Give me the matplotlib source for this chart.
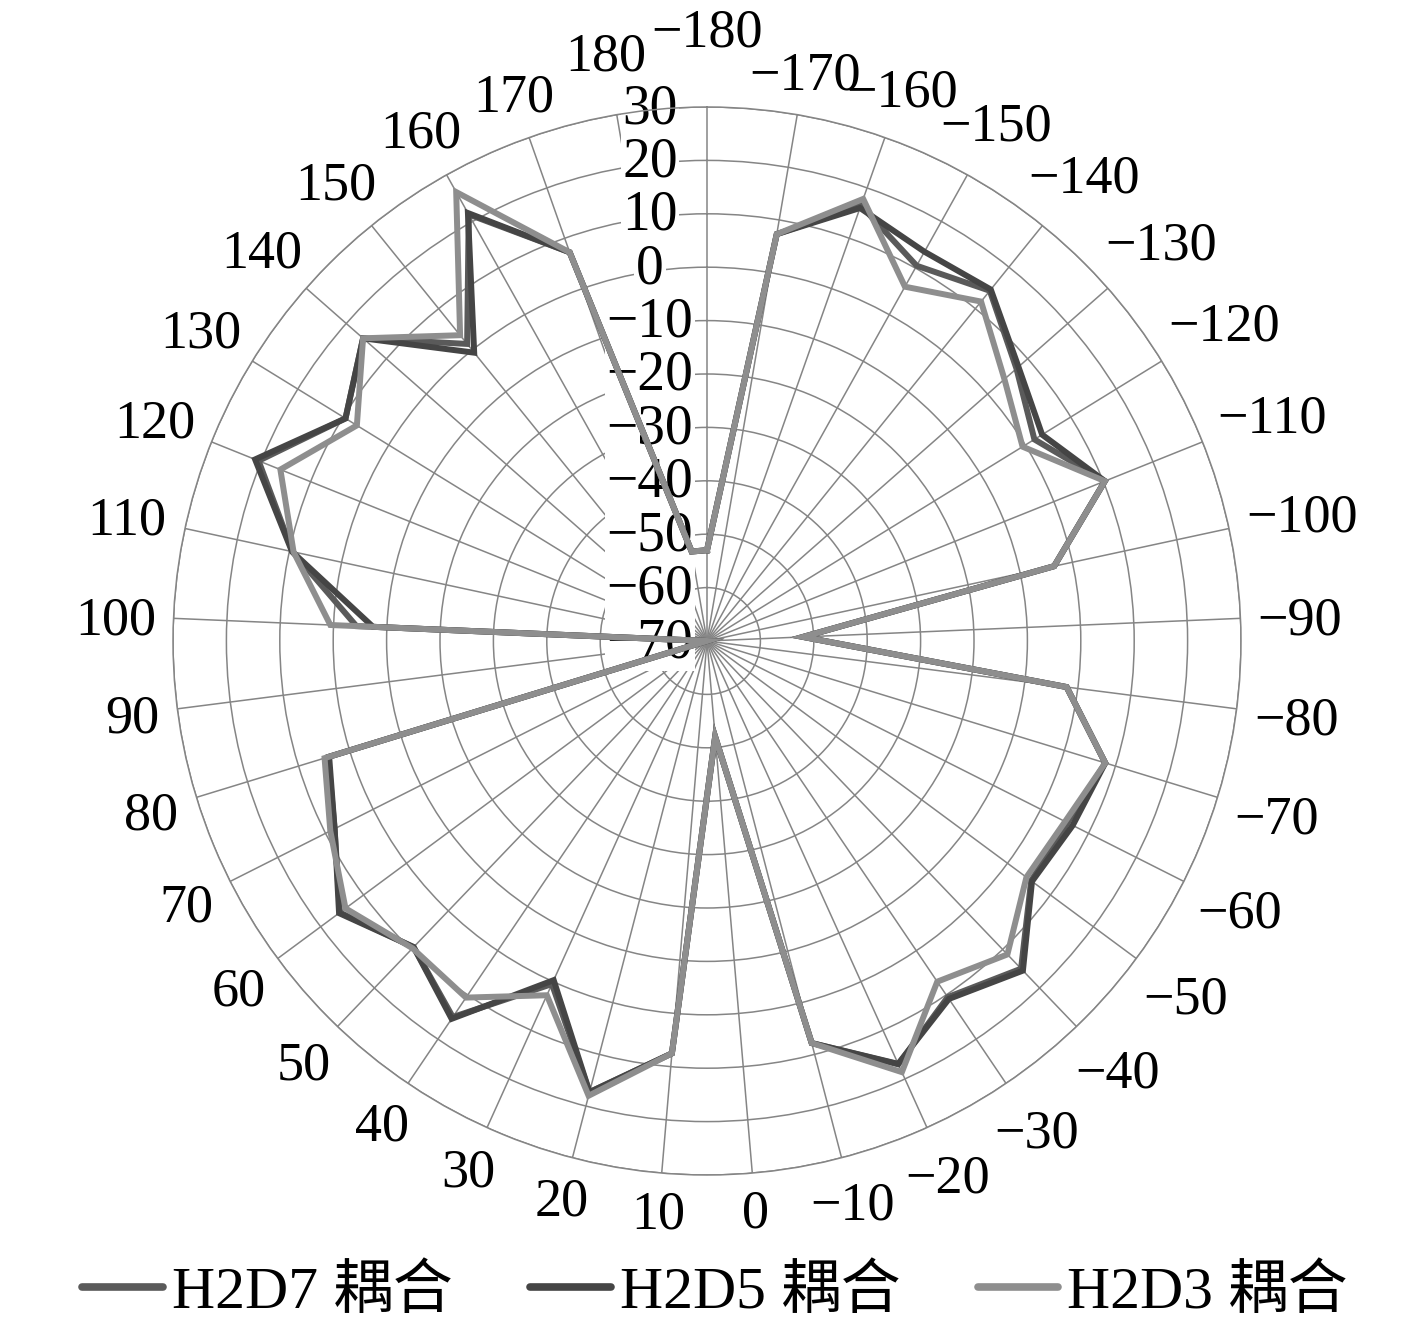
import numpy as np
import matplotlib
matplotlib.use("Agg")
import matplotlib.pyplot as plt

# categories (deg) and the three coupled series
angles_deg = list(range(-180, 181, 10))
h2d7 = [-53, 7.3, 16.5, 10.5, 14.3, 7.2, 2.0, 10.3, -3.5, -52, -2.1, 8.0, 5.6, 5.5,
        15.0, 10.5, 17.0, 7.8, -52, 7.5, 17.3, 0.5, 15.0, 9.4, 15.5, 8.1, 4.2, -70,
        -4.3, 9.4, 20.5, 9.5, 15.8, 1.5, 21.5, 7.2, -53]
h2d5 = [-53, 7.3, 16.0, 13.5, 14.6, 7.7, 3.7, 10.3, -3.5, -52, -2.1, 8.0, 6.7, 5.7,
        15.5, 10.9, 16.9, 7.8, -52, 7.5, 17.3, -0.3, 15.4, 9.4, 15.7, 8.1, 4.0, -70,
        -7.4, 9.5, 21.2, 9.5, 15.8, -0.6, 21.8, 7.2, -53]
h2d3 = [-53, 7.3, 17.8, 6.0, 11.7, 4.2, -0.6, 10.3, -3.5, -52, -2.1, 8.0, 5.1, 4.4,
        11.3, 7.0, 18.6, 7.8, -52, 7.5, 18.0, 2.8, 10.6, 9.7, 14.2, 9.0, 4.9, -70,
        0.6, 9.2, 16.1, 7.0, 15.8, 3.6, 26.3, 7.2, -53]
series_names = ["H2D7 耦合", "H2D5 耦合", "H2D3 耦合"]
series_colors = ["#5a5a5a", "#454545", "#8e8e8e"]
r_ticks = list(range(-70, 31, 10))

plt.rcParams['font.family'] = ['Liberation Serif', 'Noto Sans CJK SC', 'DejaVu Serif']

W, H = 1417, 1330
cx, cy, R = 707, 641, 534   # centre and radius in pixels
fig = plt.figure(figsize=(W / 100, H / 100), dpi=100)
ax = fig.add_axes([(cx - R) / W, (H - cy - R) / H, 2 * R / W, 2 * R / H], projection='polar')

n = len(angles_deg)
theta = np.arange(n) * 2 * np.pi / n
ax.set_theta_zero_location('N')
ax.set_theta_direction(-1)
ax.set_ylim(-70, 30)
ax.set_yticks(r_ticks)
ax.set_yticklabels([])
ax.set_xticks(theta)
ax.set_xticklabels([])
ax.tick_params(length=0)
ax.grid(True, color='#858585', lw=1.1)
ax.spines['polar'].set_color('#858585')
ax.spines['polar'].set_linewidth(1.1)

lines = []
for vals, name, col in zip([h2d7, h2d5, h2d3], series_names, series_colors):
    t = np.append(theta, theta[0])
    v = np.append(vals, vals[0])
    ln, = ax.plot(t, v, color=col, lw=4.3, label=name, zorder=5, solid_joinstyle='miter')
    lines.append(ln)

fs = 39
em = fs * 100 / 72

# category labels around the outside
for i, a in enumerate(angles_deg):
    lab = str(a).replace('-', '\u2212')
    w = em * (0.5 * sum(ch.isdigit() for ch in lab) + 0.564 * lab.count('\u2212'))
    h = 0.7 * em
    s, c = np.sin(theta[i]), np.cos(theta[i])
    d = 16 + 0.5 * w * abs(s) + 0.5 * h * abs(c)
    if i == 0:
        d += 44
    if i == n - 1:
        d += 22
    ax.annotate(lab, xy=(theta[i], 30), xytext=(d * s, d * c - 5),
                textcoords='offset pixels', ha='center', va='center',
                fontsize=fs, annotation_clip=False)

# radial value labels next to the vertical axis
for v in r_ticks:
    lab = str(v).replace('-', '\u2212')
    ax.annotate(lab, xy=(0, v), xytext=(-57, -2), textcoords='offset pixels',
                ha='center', va='center', fontsize=40, zorder=2,
                bbox=dict(boxstyle='square,pad=0.03', fc='white', ec='none'))

leg = fig.legend(handles=lines, loc='center', bbox_to_anchor=(715 / W, 1 - 1293 / H),
                 ncol=3, frameon=False, fontsize=43, handlelength=1.35,
                 handletextpad=0.15, columnspacing=1.3)
for hl in leg.legend_handles:
    hl.set_linewidth(5.5)
    hl.set_solid_capstyle('round')

fig.savefig("out.png", dpi=100)
